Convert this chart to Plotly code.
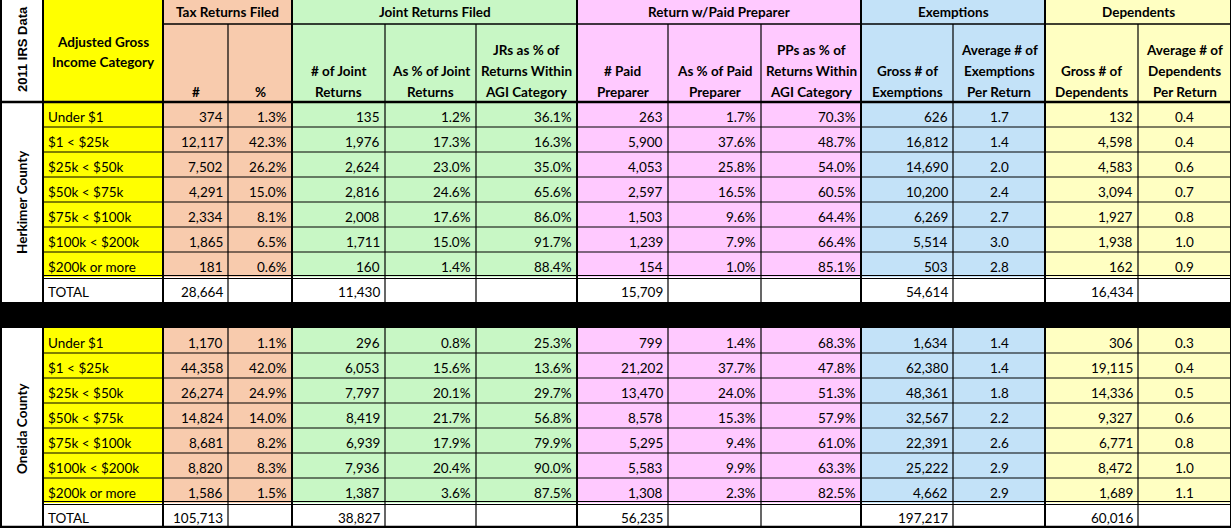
import plotly.graph_objects as go

# ---------------- data ----------------
categories = ["Under $1", "$1 < $25k", "$25k < $50k", "$50k < $75k",
              "$75k < $100k", "$100k < $200k", "$200k or more"]

herkimer_returns = [374, 12117, 7502, 4291, 2334, 1865, 181]
herkimer_returns_pct = [1.3, 42.3, 26.2, 15.0, 8.1, 6.5, 0.6]
herkimer_joint = [135, 1976, 2624, 2816, 2008, 1711, 160]
herkimer_joint_pct = [1.2, 17.3, 23.0, 24.6, 17.6, 15.0, 1.4]
herkimer_joint_share = [36.1, 16.3, 35.0, 65.6, 86.0, 91.7, 88.4]
herkimer_paid = [263, 5900, 4053, 2597, 1503, 1239, 154]
herkimer_paid_pct = [1.7, 37.6, 25.8, 16.5, 9.6, 7.9, 1.0]
herkimer_paid_share = [70.3, 48.7, 54.0, 60.5, 64.4, 66.4, 85.1]
herkimer_exemptions = [626, 16812, 14690, 10200, 6269, 5514, 503]
herkimer_exemptions_avg = [1.7, 1.4, 2.0, 2.4, 2.7, 3.0, 2.8]
herkimer_dependents = [132, 4598, 4583, 3094, 1927, 1938, 162]
herkimer_dependents_avg = [0.4, 0.4, 0.6, 0.7, 0.8, 1.0, 0.9]
herkimer_totals = [28664, 11430, 15709, 54614, 16434]

oneida_returns = [1170, 44358, 26274, 14824, 8681, 8820, 1586]
oneida_returns_pct = [1.1, 42.0, 24.9, 14.0, 8.2, 8.3, 1.5]
oneida_joint = [296, 6053, 7797, 8419, 6939, 7936, 1387]
oneida_joint_pct = [0.8, 15.6, 20.1, 21.7, 17.9, 20.4, 3.6]
oneida_joint_share = [25.3, 13.6, 29.7, 56.8, 79.9, 90.0, 87.5]
oneida_paid = [799, 21202, 13470, 8578, 5295, 5583, 1308]
oneida_paid_pct = [1.4, 37.7, 24.0, 15.3, 9.4, 9.9, 2.3]
oneida_paid_share = [68.3, 47.8, 51.3, 57.9, 61.0, 63.3, 82.5]
oneida_exemptions = [1634, 62380, 48361, 32567, 22391, 25222, 4662]
oneida_exemptions_avg = [1.4, 1.4, 1.8, 2.2, 2.6, 2.9, 2.9]
oneida_dependents = [306, 19115, 14336, 9327, 6771, 8472, 1689]
oneida_dependents_avg = [0.3, 0.4, 0.5, 0.6, 0.8, 1.0, 1.1]
oneida_totals = [105713, 38827, 56235, 197217, 60016]

group_headers = ["Tax Returns Filed", "Joint Returns Filed", "Return w/Paid Preparer",
                 "Exemptions", "Dependents"]
sub_headers = ["#", "%", "# of Joint\nReturns", "As % of Joint\nReturns",
               "JRs as % of\nReturns Within\nAGI Category", "# Paid\nPreparer",
               "As % of Paid\nPreparer", "PPs as % of\nReturns Within\nAGI Category",
               "Gross # of\nExemptions", "Average # of\nExemptions\nPer Return",
               "Gross # of\nDependents", "Average # of\nDependents\nPer Return"]

# ---------------- layout ----------------
W, H = 1231, 528
col_x = [0, 43, 163, 228, 292, 385, 476, 577, 668, 761, 861, 953, 1045, 1138, 1231]
group_cols = [(2, 4), (4, 7), (7, 10), (10, 12), (12, 14)]
group_fill = ["#F8CBAD", "#C8F7C5", "#FFC9FF", "#C3E2F8", "#FFFFC2"]
col_kind = ["n", "pct", "n", "pct", "pct", "n", "pct", "pct", "n", "avg", "n", "avg"]
total_cols = [2, 4, 7, 10, 12]
YELLOW = "#FFFF00"
ROW_H = 25
blocks = [("Herkimer County", 102, [herkimer_returns, herkimer_returns_pct, herkimer_joint,
                                    herkimer_joint_pct, herkimer_joint_share, herkimer_paid,
                                    herkimer_paid_pct, herkimer_paid_share, herkimer_exemptions,
                                    herkimer_exemptions_avg, herkimer_dependents,
                                    herkimer_dependents_avg], herkimer_totals),
          ("Oneida County", 328, [oneida_returns, oneida_returns_pct, oneida_joint,
                                  oneida_joint_pct, oneida_joint_share, oneida_paid,
                                  oneida_paid_pct, oneida_paid_share, oneida_exemptions,
                                  oneida_exemptions_avg, oneida_dependents,
                                  oneida_dependents_avg], oneida_totals)]

FONT = "Lato"
FS = 13.5
shapes = []
annotations = []


def col_color(c):
    if c == 1:
        return YELLOW
    for (a, b), fill in zip(group_cols, group_fill):
        if a <= c < b:
            return fill
    return "white"


def rect(x0, y0, x1, y1, color):
    shapes.append(dict(type="rect", xref="x", yref="y", x0=x0, x1=x1, y0=y0, y1=y1,
                       fillcolor=color, line=dict(width=0), layer="below"))


def line(x0, y0, x1, y1, w=1):
    shapes.append(dict(type="line", xref="x", yref="y", x0=x0, x1=x1, y0=y0, y1=y1,
                       line=dict(color="black", width=w)))


def text(x, y, s, anchor="center", bold=False, size=FS, angle=0, family=FONT):
    if bold:
        s = "<b>" + s + "</b>"
    annotations.append(dict(x=x, y=y, xref="x", yref="y", text=s, showarrow=False,
                            xanchor=anchor, yanchor="middle", textangle=angle,
                            font=dict(family=family, size=size, color="black")))


def fmt(v, kind):
    if kind == "n":
        return f"{v:,}"
    if kind == "pct":
        return f"{v:.1f}%"
    return f"{v:.1f}"


def put(c, y, s):
    kind = col_kind[c - 2]
    if kind == "avg":
        text((col_x[c] + col_x[c + 1]) / 2, y, s)
    else:
        text(col_x[c + 1] - 3, y, s, anchor="right")


# header fills
rect(0, 0, col_x[1], 102, "white")
rect(col_x[1], 0, col_x[2], 102, YELLOW)
for (a, b), fill, g in zip(group_cols, group_fill, group_headers):
    rect(col_x[a], 0, col_x[b], 102, fill)
    text((col_x[a] + col_x[b]) / 2, 12, g, bold=True)
text(22, 49, "2011 IRS Data", bold=True, size=13, angle=-90, family="Liberation Sans")
text((col_x[1] + col_x[2]) / 2, 42, "Adjusted Gross", bold=True)
text((col_x[1] + col_x[2]) / 2, 62, "Income Category", bold=True)
for i, h in enumerate(sub_headers):
    c = i + 2
    parts = h.split("\n")
    for j, p in enumerate(parts):
        text((col_x[c] + col_x[c + 1]) / 2, 92 - 21 * (len(parts) - 1 - j), p, bold=True)

# header lines
line(col_x[2], 24, W, 24, 1.5)
for c in range(1, 15):
    major = c in (1, 2, 4, 7, 10, 12, 14)
    line(col_x[c], 0 if major else 24, col_x[c], 102, 2 if major else 1.2)

# data blocks
for name, top, cols, totals in blocks:
    bottom = top + ROW_H * 8
    rect(0, top, col_x[1], bottom, "white")
    for c in range(1, 14):
        rect(col_x[c], top, col_x[c + 1], top + ROW_H * 7, col_color(c))
    rect(col_x[1], top + ROW_H * 7, W, bottom, "white")
    text(22, (top + bottom) / 2, name, bold=True, size=13.5, angle=-90)
    for r, cat in enumerate(categories):
        yc = top + ROW_H * r + ROW_H / 2 + 2
        text(col_x[1] + 3, yc, cat, anchor="left")
        for i, values in enumerate(cols):
            put(i + 2, yc, fmt(values[r], col_kind[i]))
    yt = top + ROW_H * 7 + ROW_H / 2 + 2
    text(col_x[1] + 3, yt, "TOTAL", anchor="left")
    for c, v in zip(total_cols, totals):
        put(c, yt, fmt(v, "n"))
    # grid lines
    for r in range(1, 7):
        line(col_x[1], top + ROW_H * r, W, top + ROW_H * r, 1.2)
    line(col_x[1], top + ROW_H * 7 - 1.5, W, top + ROW_H * 7 - 1.5, 1.2)
    line(col_x[1], top + ROW_H * 7 + 1.5, W, top + ROW_H * 7 + 1.5, 1.2)
    for c in range(1, 15):
        major = c in (1, 2, 4, 7, 10, 12, 14)
        line(col_x[c], top, col_x[c], bottom, 2 if major else 1.2)

# separators and outer border
line(0, 102, W, 102, 2.5)
rect(0, 302, W, 328, "black")
line(0, 527, W, 527, 2.5)
line(1, 0, 1, H, 2)

fig = go.Figure()
fig.add_trace(go.Scatter(x=[0, W], y=[0, H], mode="markers",
                         marker=dict(opacity=0), hoverinfo="skip", showlegend=False))
fig.update_layout(
    width=W, height=H,
    margin=dict(l=0, r=0, t=0, b=0),
    paper_bgcolor="white", plot_bgcolor="white",
    xaxis=dict(range=[0, W], visible=False, fixedrange=True),
    yaxis=dict(range=[H, 0], visible=False, fixedrange=True),
    shapes=shapes, annotations=annotations,
)
fig.write_html("out.html", config={"displayModeBar": False},
               post_script="document.body.style.margin='0';"
                           "document.body.style.overflow='hidden';")
